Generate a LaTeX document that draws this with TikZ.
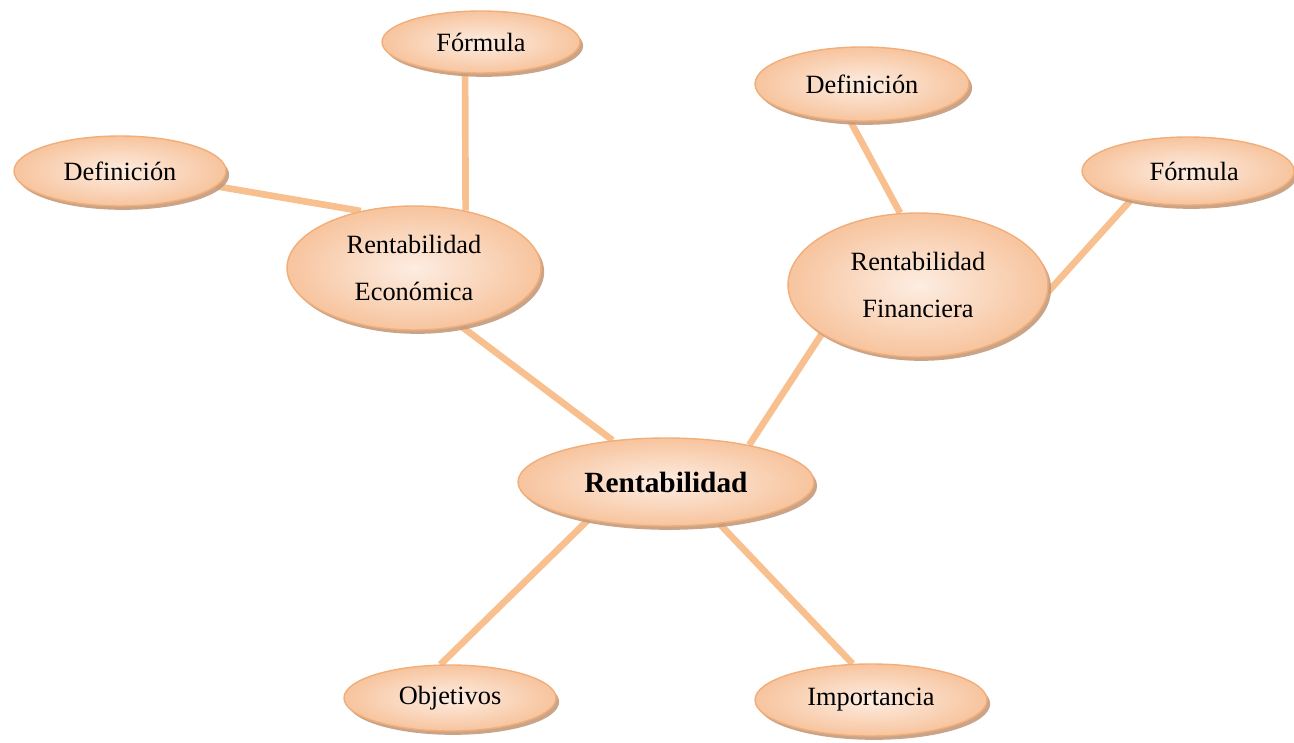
\documentclass[tikz,border=0pt]{standalone}
\usepackage{fontspec}
\setmainfont{Liberation Serif}
\usetikzlibrary{shapes.geometric,shadows,backgrounds}
\definecolor{peach}{HTML}{F7C49E}
\definecolor{peachlight}{HTML}{FDEDE2}
\definecolor{rim}{HTML}{F2AE78}
\definecolor{shadowtone}{HTML}{C49A7C}
\definecolor{linkcol}{HTML}{F9C08F}

\tikzset{
  bubble/.style={ellipse,draw=rim,line width=0.8pt,inner sep=0pt,
    inner color=peachlight,outer color=peach,
    drop shadow={shadow xshift=1.8pt,shadow yshift=-2.2pt,fill=shadowtone,opacity=0.9},
    font=\fontsize{15}{27}\selectfont,align=center},
  link/.style={linkcol,line width=3.8pt}
}

\begin{document}
\begin{tikzpicture}[x=0.02cm,y=-0.02cm]
        \useasboundingbox (0,0) rectangle (1294,743);
        % centre
        \node[bubble,minimum width=5.92cm,minimum height=1.76cm,font=\fontsize{16.7}{20}\selectfont\bfseries] (rent) at (666,482) {Rentabilidad};
        % branches
        \node[bubble,minimum width=5.08cm,minimum height=2.48cm] (econ) at (414,268) {Rentabilidad\\Económica};
        \node[bubble,minimum width=5.20cm,minimum height=2.88cm] (fin) at (918,285) {Rentabilidad\\Financiera};
        \node[bubble,minimum width=4.24cm,minimum height=1.32cm] (obj) at (450,698) {Objetivos};
        \node[bubble,minimum width=4.64cm,minimum height=1.44cm] (imp) at (871,700) {Importancia};
        % leaves
        \node[bubble,minimum width=3.96cm,minimum height=1.24cm] (econform) at (481,42) {Fórmula};
        \node[bubble,minimum width=4.24cm,minimum height=1.40cm] (econdef) at (120,171) {Definición};
        \node[bubble,minimum width=4.28cm,minimum height=1.48cm] (findef) at (862,84) {Definición};
        \node[bubble,minimum width=4.24cm,minimum height=1.36cm] (finform) at (1188,171) {\hspace*{0.25cm}Fórmula};

        \begin{scope}[on background layer]
          \draw[link] (econ.-51) -- (rent.142);
          \draw[link] (fin.-153) -- (rent.24);
          \draw[link] (rent.-154) -- (obj.106);
          \draw[link] (rent.-38) -- (imp.117);
          \draw[link] (econform.-117) -- (econ.48);
          \draw[link] (econdef.-9.6) -- (econ.133);
          \draw[link] (findef.-107) -- (fin.104);
          \draw[link] (finform.-153) -- (fin.-3.5);
        \end{scope}
      \end{tikzpicture}
\end{document}
